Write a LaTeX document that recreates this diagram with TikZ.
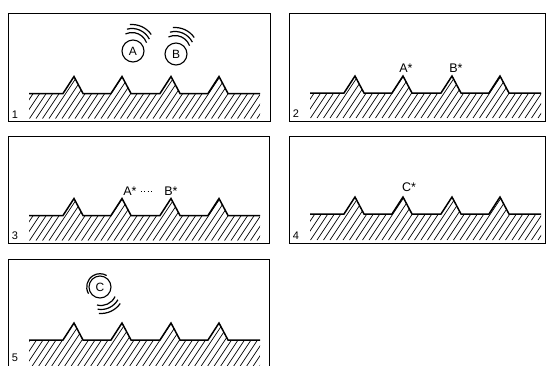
\documentclass[tikz,border=0pt]{standalone}
\usepackage{fontspec}
\setmainfont{Liberation Sans}
% hatched, saw-toothed surface strip: #1 = x of its left end, #2 = y of the ground line, #3 = depth of the hatching
\newcommand\groundstrip[3]{%
  \begin{scope}[shift={(#1,#2)}]
    \begin{scope}
      \clip (0,0) -- (34,0) -- (45,-17) -- (54,0) -- (82,0) -- (93,-17) -- (102,0)
        -- (131,0) -- (142,-17) -- (151,0) -- (179,0) -- (190,-17) -- (199,0) -- (231,0)
        -- (231,#3) -- (0,#3) -- cycle;
      \foreach \i in {-32,-25.5,...,236} \draw[hatch] (\i,#3) -- ++(30,-45);
    \end{scope}
    \draw[ground] (0,0) -- (34,0) -- (45,-17) -- (54,0) -- (82,0) -- (93,-17) -- (102,0)
      -- (131,0) -- (142,-17) -- (151,0) -- (179,0) -- (190,-17) -- (199,0) -- (231,0);
  \end{scope}}
\begin{document}
\begin{tikzpicture}[x=1pt,y=-1pt,
  frame/.style={draw, line width=1pt},
  ground/.style={line width=1.5pt, line join=miter},
  hatch/.style={line width=0.7pt},
  ball/.style={circle, draw, line width=1.1pt, minimum size=22pt, inner sep=0pt,
    font=\fontsize{12}{12}\selectfont},
  wave/.style={line width=1.2pt},
  species/.style={font=\fontsize{12.5}{12.5}\selectfont, inner sep=1pt},
  tag/.style={font=\fontsize{11}{11}\selectfont, inner sep=0pt},
  dotlink/.style={line width=1pt, dash pattern=on 1pt off 2.4pt, shorten <=3pt, shorten >=9pt}]
\useasboundingbox (0,0) rectangle (546,365);

% frames
\draw[frame] (8,13) rectangle (270,121);
\draw[frame] (289,13) rectangle (545,121);
\draw[frame] (8,136) rectangle (269,243);
\draw[frame] (289,136) rectangle (545,243);
\draw[frame] (8,372) -- (8,259) -- (269,259) -- (269,372);

% surfaces
\groundstrip{29}{93.5}{25}
\groundstrip{310}{93}{25}
\groundstrip{29}{215.5}{25}
\groundstrip{310}{214}{26}
\groundstrip{29}{340}{30}

% step numbers
\node[tag] (n1) at (15,115) {1};
\node[tag] (n2) at (296,114) {2};
\node[tag] (n3) at (15,236) {3};
\node[tag] (n4) at (296,236) {4};
\node[tag] (n5) at (15,358) {5};

% step 1: two incoming atoms
\node[ball] (A1) at (133,51) {A};
\node[ball] (B1) at (176,54) {B};
\foreach \b in {A1,B1} {
  \draw[wave] ([shift={(-1,-3)}]\b.center) ++(-20:15.5) arc[start angle=-20, end angle=-115, radius=15.5];
  \draw[wave] ([shift={(-1,-3)}]\b.center) ++(-27:19.5) arc[start angle=-27, end angle=-105, radius=19.5];
  \draw[wave] ([shift={(-1,-3)}]\b.center) ++(-35:23.5) arc[start angle=-35, end angle=-95, radius=23.5];
}

% step 2: adsorbed atoms
\node[species] (A2) at (406,68) {A*};
\node[species] (B2) at (456,68) {B*};

% step 3: surface reaction
\node[species] (A3) at (130,191) {A*};
\node[species] (B3) at (171,191) {B*};
\draw[dotlink] (A3) -- (B3);

% step 4: adsorbed product
\node[species] (C4) at (409,187) {C*};

% step 5: desorbing product
\node[ball] (C5) at (100,287) {C};
\draw[wave] (C5.center) ++(150:13.3) arc[start angle=150, end angle=300, radius=13.3];
\draw[wave] ([shift={(1,3)}]C5.center) ++(25:15.5) arc[start angle=25, end angle=105, radius=15.5];
\draw[wave] ([shift={(1,3)}]C5.center) ++(30:19.5) arc[start angle=30, end angle=100, radius=19.5];
\draw[wave] ([shift={(1,3)}]C5.center) ++(35:23.5) arc[start angle=35, end angle=95, radius=23.5];
\end{tikzpicture}
\end{document}
